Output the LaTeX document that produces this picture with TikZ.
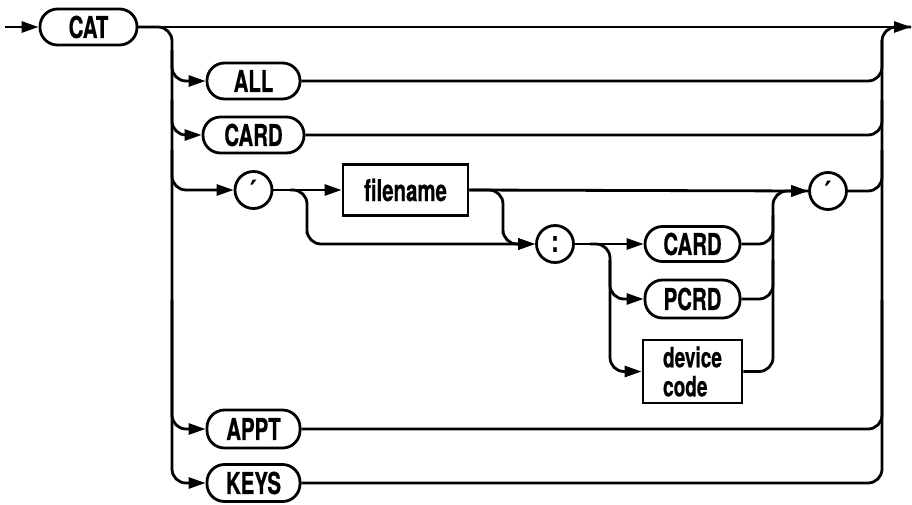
\documentclass[tikz,border=0pt]{standalone}
\usepackage{fontspec}
\newfontfamily\labfont{TeX Gyre Heros}[FakeStretch=0.68, FakeBold=0.6]
\newfontfamily\primefont{DejaVu Sans}
\usetikzlibrary{arrows.meta}
\begin{document}
\begin{tikzpicture}[x=1pt,y=-1pt,
  line width=2.8pt,
  every node/.style={font=\labfont\bfseries\fontsize{30}{27}\selectfont, inner sep=0pt, line width=2.8pt},
  term/.style={draw, rectangle, rounded corners=17.5pt, minimum height=36pt},
  nterm/.style={draw, rectangle},
  sym/.style={draw, circle, minimum size=37pt},
  arr/.style={-{Triangle[length=17pt,width=11pt]}},
  rc/.style={rounded corners=14pt}]
\useasboundingbox (0,0) rectangle (912,504);

% nodes
\node[term, minimum width=97pt] (cat) at (88.5,27) {CAT};
\node[term, minimum width=93pt] (all) at (253.5,81) {ALL};
\node[term, minimum width=101pt] (card) at (253.5,135) {CARD};
\node[sym] (q1) at (253.5,190) {\primefont\bfseries\fontsize{28}{28}\selectfont ′};
\node[nterm, minimum width=125pt, minimum height=51pt] (fn) at (405.5,190) {filename};
\node[sym] (colon) at (555,244) {:};
\node[term, minimum width=95pt, minimum height=35pt] (card2) at (692.5,244) {CARD};
\node[term, minimum width=95pt, minimum height=38pt] (pcrd) at (692.5,299) {PCRD};
\node[nterm, minimum width=99pt, minimum height=63pt, align=left,
  font=\labfont\bfseries\fontsize{28}{29}\selectfont] (dev) at (692.5,371.5) {device\\code};
\node[sym] (q2) at (828,191) {\primefont\bfseries\fontsize{28}{28}\selectfont ′};
\node[term, minimum width=93pt, minimum height=38pt] (appt) at (253.5,429) {APPT};
\node[term, minimum width=93pt, minimum height=37pt] (keys) at (253.5,483) {KEYS};

% coordinates
\coordinate (in) at (5,27);
\coordinate (out) at (911,27);

% entry and main line
\draw[arr] (in) -- (cat.west);
\draw[arr] (cat.east) -- (out);

% left bus and branches
\draw[arr, rc] (cat.east) -| (172,300) |- (keys.west);
\draw[arr, rc] (172,50) |- (all.west);
\draw[arr, rc] (172,100) |- (card.west);
\draw[arr, rc] (172,150) |- (q1.west);
\draw[arr, rc] (172,300) |- (appt.west);

% right bus and joins
\draw[rc] (keys.east) -| (882,300) |- (out);
\draw[rc] (all.east) -| (882,40);
\draw[rc] (card.east) -| (882,100);
\draw[rc] (q2.east) -| (882,150);
\draw[rc] (appt.east) -| (882,300);

% quote section
\draw[arr] (q1.east) -- (fn.west);
\draw[arr, rc] (290,190) -| (307,220) |- (colon.west);
\draw[arr] (fn.east) -- (q2.west);
\draw[arr, rc] (fn.east) -| (503,220) |- (colon.west);

% device column
\draw[arr] (colon.east) -- (card2.west);
\draw[arr, rc] (590,244) -| (610,300) |- (dev.west);
\draw[arr, rc] (610,260) |- (pcrd.west);
\draw[rc] (dev.east) -| (773,300) |- (q2.west);
\draw[rc] (card2.east) -| (773,215);
\draw[rc] (pcrd.east) -| (773,260);
\draw[arr] (780,191) -- (q2.west);
\end{tikzpicture}
\end{document}
